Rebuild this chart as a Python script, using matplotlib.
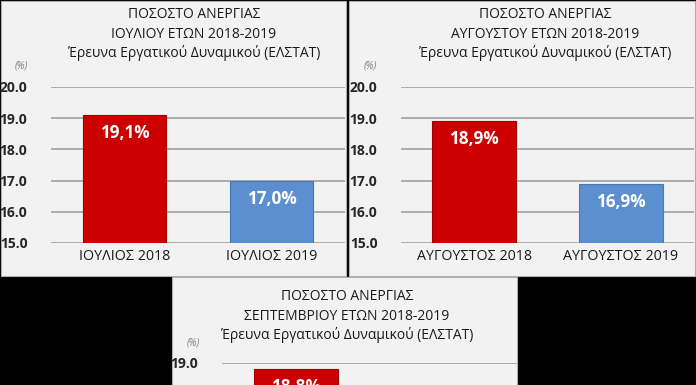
import matplotlib
matplotlib.use("Agg")
import matplotlib.pyplot as plt
from matplotlib.patches import Rectangle

plt.rcParams['font.family'] = ['Open Sans', 'DejaVu Sans']

# ---- data ----
titles = [
    ["ΠΟΣΟΣΤΟ ΑΝΕΡΓΙΑΣ", "ΙΟΥΛΙΟΥ ΕΤΩΝ 2018-2019", "Έρευνα Εργατικού Δυναμικού (ΕΛΣΤΑΤ)"],
    ["ΠΟΣΟΣΤΟ ΑΝΕΡΓΙΑΣ", "ΑΥΓΟΥΣΤΟΥ ΕΤΩΝ 2018-2019", "Έρευνα Εργατικού Δυναμικού (ΕΛΣΤΑΤ)"],
    ["ΠΟΣΟΣΤΟ ΑΝΕΡΓΙΑΣ", "ΣΕΠΤΕΜΒΡΙΟΥ ΕΤΩΝ 2018-2019", "Έρευνα Εργατικού Δυναμικού (ΕΛΣΤΑΤ)"],
]
categories = [
    ["ΙΟΥΛΙΟΣ 2018", "ΙΟΥΛΙΟΣ 2019"],
    ["ΑΥΓΟΥΣΤΟΣ 2018", "ΑΥΓΟΥΣΤΟΣ 2019"],
    ["", ""],  # third chart's category labels lie below the visible picture
]
values_july = [19.1, 17.0]
values_august = [18.9, 16.9]
values_september = [18.8, 16.9]
values = [values_july, values_august, values_september]
yticks_top = [15.0, 16.0, 17.0, 18.0, 19.0, 20.0]
yticks_bottom = [19.0]  # only visible tick of the cut-off third chart
y_max = [20.0, 20.0, 19.0]
bar_colors = ["#cc0000", "#5b8fd0"]

W, H = 696, 385
fig = plt.figure(figsize=(W / 100, H / 100), dpi=100, facecolor="black")


def fx(x):
    return x / W


def fy(y):
    return 1 - y / H


# panels (left, top, right, bottom) in pixels
panels = [(1, 1, 346, 276), (349, 1, 695, 276), (172, 277, 517, 400)]
for (l, t, r, b) in panels:
    fig.add_artist(Rectangle((fx(l), fy(b)), fx(r - l), (b - t) / H,
                             transform=fig.transFigure, facecolor="#f2f2f2",
                             edgecolor="#b0b0b0", linewidth=0.8, zorder=0))

unit = 31.2
axes_specs = [
    dict(left=51, right=345, top=87, title_cx=194, title_y=15, pct=(21, 66)),
    dict(left=401, right=694, top=87, title_cx=545, title_y=15, pct=(370, 66)),
    dict(left=222, right=517, top=363, title_cx=347, title_y=297, pct=(193, 343)),
]

for i, spec in enumerate(axes_specs):
    ymax = y_max[i]
    top = spec["top"]
    bottom = top + (ymax - 15.0) * unit
    ax = fig.add_axes([fx(spec["left"]), fy(bottom),
                       fx(spec["right"] - spec["left"]), (bottom - top) / H])
    ax.set_facecolor("none")
    x = [0, 1]
    ax.bar(x, values[i], width=0.57, color=bar_colors,
           edgecolor=["#a00000", "#4a78b0"], linewidth=0.8, zorder=3)
    ax.set_xlim(-0.5, 1.5)
    ax.set_ylim(15.0, ymax)
    ticks = yticks_top if ymax == 20.0 else yticks_bottom
    ax.set_yticks(ticks)
    ax.set_yticklabels([f"{t:.1f}" for t in ticks], fontsize=10,
                       fontweight="bold", color="#262626")
    ax.set_xticks(x)
    ax.set_xticklabels(categories[i], fontsize=10.3, color="#1a1a1a")
    ax.tick_params(axis="both", length=0, pad=4)
    ax.tick_params(axis="y", pad=17)
    ax.grid(axis="y", color="#a6a6a6", linewidth=1.3, zorder=0)
    for s in ax.spines.values():
        s.set_visible(False)
    for j, (xi, v) in enumerate(zip(x, values[i])):
        if i == 2 and j == 1:
            continue  # label lies below the visible picture
        ax.annotate(f"{v:.1f}".replace(".", ",") + "%", (xi, v),
                    xytext=(0, -18), textcoords="offset pixels",
                    ha="center", va="center", fontsize=12.3,
                    fontweight="bold", color="white", zorder=4,
                    annotation_clip=False)
    for k, line in enumerate(titles[i]):
        fig.text(fx(spec["title_cx"]), fy(spec["title_y"] + k * 19), line,
                 ha="center", va="center", fontsize=10, color="#1a1a1a")
    fig.text(fx(spec["pct"][0]), fy(spec["pct"][1]), "(%)", ha="center",
             va="center", fontsize=7, style="italic", color="#7f7f7f")

fig.savefig("out.png", dpi=100, facecolor="black")
